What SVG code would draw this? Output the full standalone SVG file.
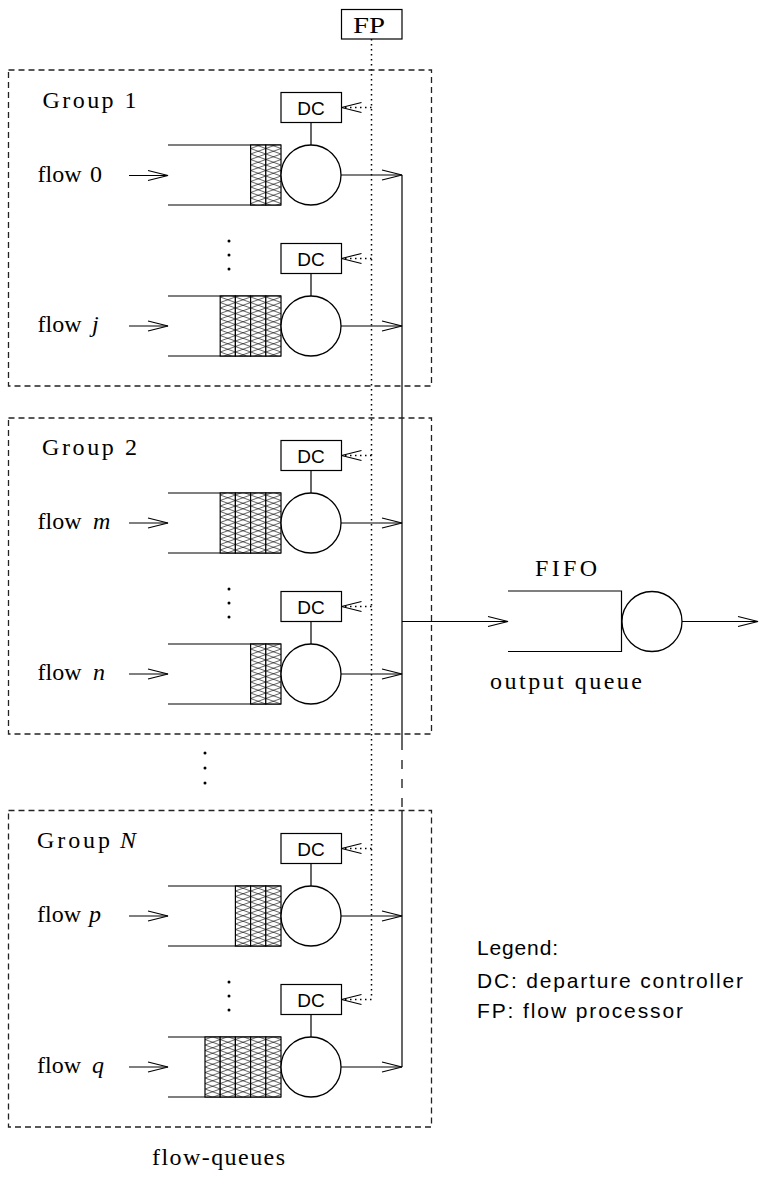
<svg xmlns="http://www.w3.org/2000/svg" width="759" height="1184" viewBox="0 0 759 1184">
<style>
.s{font-family:"Liberation Serif","DejaVu Serif",serif;font-size:24px;fill:#000}
.i{font-style:italic}
.ss{font-family:"Liberation Sans",Arial,sans-serif;fill:#000}
.dc{font-size:19px;text-anchor:middle}
.lg{font-size:21px}
.ln{stroke:#000;stroke-width:1.2;fill:none}
.grp{stroke:#222;stroke-width:1.3;fill:none;stroke-dasharray:6 4}
.dot{stroke:#000;stroke-width:1.5;fill:none;stroke-dasharray:1.5 3.5}
.box{stroke:#000;stroke-width:1.2;fill:#fff}
.cell{stroke:#000;stroke-width:1.2;fill:url(#hatch)}
.srv{stroke:#000;stroke-width:1.3;fill:#fff}
.pt{fill:#000}
</style>
<defs>
<marker id="oa" markerUnits="userSpaceOnUse" viewBox="-22 -7 24 14" refX="0" refY="0" markerWidth="24" markerHeight="14" orient="auto">
<path d="M-20,-5 L0,0 L-20,5" fill="none" stroke="#000" stroke-width="1.2"/>
</marker>
<pattern id="hatch" patternUnits="userSpaceOnUse" x="281" y="0" width="15.2" height="11">
<rect width="15.2" height="11" fill="#fff"/>
<path d="M0,0 L15.2,5.5 L0,11 M15.2,0 L0,5.5 L15.2,11" fill="none" stroke="#000" stroke-width="0.6"/>
</pattern>
</defs>

<g id="connectors">
<line class="dot" x1="371.5" y1="39" x2="371.5" y2="999"/>
<line class="ln" x1="402" y1="175" x2="402" y2="741"/>
<line class="ln" x1="402" y1="741" x2="402" y2="810" stroke-dasharray="9 10"/>
<line class="ln" x1="402" y1="810" x2="402" y2="1067"/>
<line class="ln" x1="341" y1="175" x2="402" y2="175" marker-end="url(#oa)"/>
<line class="ln" x1="341" y1="326" x2="402" y2="326" marker-end="url(#oa)"/>
<line class="ln" x1="341" y1="523" x2="402" y2="523" marker-end="url(#oa)"/>
<line class="ln" x1="341" y1="674" x2="402" y2="674" marker-end="url(#oa)"/>
<line class="ln" x1="341" y1="916" x2="402" y2="916" marker-end="url(#oa)"/>
<line class="ln" x1="341" y1="1067" x2="402" y2="1067" marker-end="url(#oa)"/>
<line class="dot" x1="371.5" y1="107.5" x2="341.5" y2="107.5" marker-end="url(#oa)"/>
<line class="dot" x1="371.5" y1="258.5" x2="341.5" y2="258.5" marker-end="url(#oa)"/>
<line class="dot" x1="371.5" y1="455.5" x2="341.5" y2="455.5" marker-end="url(#oa)"/>
<line class="dot" x1="371.5" y1="606.5" x2="341.5" y2="606.5" marker-end="url(#oa)"/>
<line class="dot" x1="371.5" y1="848.5" x2="341.5" y2="848.5" marker-end="url(#oa)"/>
<line class="dot" x1="371.5" y1="999.5" x2="341.5" y2="999.5" marker-end="url(#oa)"/>
<line class="ln" x1="402" y1="621.5" x2="508" y2="621.5" marker-end="url(#oa)"/>
<line class="ln" x1="682" y1="621.5" x2="758" y2="621.5" marker-end="url(#oa)"/>
</g>

<g id="fp">
<rect class="box" x="341.5" y="9.5" width="60.5" height="29.5"/>
<text class="s" x="353" y="33" font-size="25" textLength="32" lengthAdjust="spacingAndGlyphs">FP</text>
</g>

<g id="group1">
<rect class="grp" x="8.5" y="70" width="423" height="316"/>
<text class="s" x="42.5" y="107.5" textLength="94">Group 1</text>
<circle class="pt" cx="229" cy="241" r="1.5"/><circle class="pt" cx="229" cy="255" r="1.5"/><circle class="pt" cx="229" cy="269" r="1.5"/>
</g>
<g id="group2">
<rect class="grp" x="8.5" y="418" width="423" height="316"/>
<text class="s" x="42" y="455" textLength="95">Group 2</text>
<circle class="pt" cx="229" cy="589" r="1.5"/><circle class="pt" cx="229" cy="603" r="1.5"/><circle class="pt" cx="229" cy="617" r="1.5"/>
</g>
<g id="groupN">
<rect class="grp" x="8.5" y="810.5" width="423" height="316.5"/>
<text class="s" y="848"><tspan x="37" textLength="73">Group</tspan><tspan class="i" x="120">N</tspan></text>
<circle class="pt" cx="229" cy="982" r="1.5"/><circle class="pt" cx="229" cy="996" r="1.5"/><circle class="pt" cx="229" cy="1010" r="1.5"/>
</g>
<g id="between-groups">
<circle class="pt" cx="205" cy="753" r="1.5"/><circle class="pt" cx="205" cy="768" r="1.5"/><circle class="pt" cx="205" cy="783" r="1.5"/>
</g>

<g id="flow0">
<text class="s" y="181.5"><tspan x="37.5">flow</tspan><tspan x="90">0</tspan></text>
<line class="ln" x1="129" y1="175.5" x2="168" y2="175.5" marker-end="url(#oa)"/>
<path class="ln" d="M168,145 H281 M168,205 H281"/>
<rect class="cell" x="250.6" y="145" width="15.2" height="60"/><rect class="cell" x="265.8" y="145" width="15.2" height="60"/>
<circle class="srv" cx="311" cy="175" r="30"/>
<line class="ln" x1="311" y1="122.5" x2="311" y2="145"/>
<rect class="box" x="281" y="92.5" width="60.5" height="30"/>
<text class="ss dc" x="311" y="114.5">DC</text>
</g>

<g id="flowj">
<text class="s" y="332"><tspan x="37.5">flow</tspan><tspan class="i" x="92">j</tspan></text>
<line class="ln" x1="129" y1="326" x2="168" y2="326" marker-end="url(#oa)"/>
<path class="ln" d="M168,296 H281 M168,356 H281"/>
<rect class="cell" x="220.2" y="296" width="15.2" height="60"/><rect class="cell" x="235.4" y="296" width="15.2" height="60"/><rect class="cell" x="250.6" y="296" width="15.2" height="60"/><rect class="cell" x="265.8" y="296" width="15.2" height="60"/>
<circle class="srv" cx="311" cy="326" r="30"/>
<line class="ln" x1="311" y1="273.5" x2="311" y2="296"/>
<rect class="box" x="281" y="243.5" width="60.5" height="30"/>
<text class="ss dc" x="311" y="265.5">DC</text>
</g>

<g id="flowm">
<text class="s" y="529"><tspan x="37.5">flow</tspan><tspan class="i" x="93">m</tspan></text>
<line class="ln" x1="129" y1="523" x2="168" y2="523" marker-end="url(#oa)"/>
<path class="ln" d="M168,493 H281 M168,553 H281"/>
<rect class="cell" x="220.2" y="493" width="15.2" height="60"/><rect class="cell" x="235.4" y="493" width="15.2" height="60"/><rect class="cell" x="250.6" y="493" width="15.2" height="60"/><rect class="cell" x="265.8" y="493" width="15.2" height="60"/>
<circle class="srv" cx="311" cy="523" r="30"/>
<line class="ln" x1="311" y1="470.5" x2="311" y2="493"/>
<rect class="box" x="281" y="440.5" width="60.5" height="30"/>
<text class="ss dc" x="311" y="462.5">DC</text>
</g>

<g id="flown">
<text class="s" y="680"><tspan x="37.5">flow</tspan><tspan class="i" x="93">n</tspan></text>
<line class="ln" x1="129" y1="674" x2="168" y2="674" marker-end="url(#oa)"/>
<path class="ln" d="M168,644 H281 M168,704 H281"/>
<rect class="cell" x="250.6" y="644" width="15.2" height="60"/><rect class="cell" x="265.8" y="644" width="15.2" height="60"/>
<circle class="srv" cx="311" cy="674" r="30"/>
<line class="ln" x1="311" y1="621.5" x2="311" y2="644"/>
<rect class="box" x="281" y="591.5" width="60.5" height="30"/>
<text class="ss dc" x="311" y="613.5">DC</text>
</g>

<g id="flowp">
<text class="s" y="922"><tspan x="37">flow</tspan><tspan class="i" x="89">p</tspan></text>
<line class="ln" x1="129" y1="916" x2="168" y2="916" marker-end="url(#oa)"/>
<path class="ln" d="M168,886 H281 M168,946 H281"/>
<rect class="cell" x="235.4" y="886" width="15.2" height="60"/><rect class="cell" x="250.6" y="886" width="15.2" height="60"/><rect class="cell" x="265.8" y="886" width="15.2" height="60"/>
<circle class="srv" cx="311" cy="916" r="30"/>
<line class="ln" x1="311" y1="863.5" x2="311" y2="886"/>
<rect class="box" x="281" y="833.5" width="60.5" height="30"/>
<text class="ss dc" x="311" y="855.5">DC</text>
</g>

<g id="flowq">
<text class="s" y="1073"><tspan x="37">flow</tspan><tspan class="i" x="92">q</tspan></text>
<line class="ln" x1="129" y1="1067" x2="168" y2="1067" marker-end="url(#oa)"/>
<path class="ln" d="M168,1037 H281 M168,1097 H281"/>
<rect class="cell" x="205" y="1037" width="15.2" height="60"/><rect class="cell" x="220.2" y="1037" width="15.2" height="60"/><rect class="cell" x="235.4" y="1037" width="15.2" height="60"/><rect class="cell" x="250.6" y="1037" width="15.2" height="60"/><rect class="cell" x="265.8" y="1037" width="15.2" height="60"/>
<circle class="srv" cx="311" cy="1067" r="30"/>
<line class="ln" x1="311" y1="1014.5" x2="311" y2="1037"/>
<rect class="box" x="281" y="984.5" width="60.5" height="30"/>
<text class="ss dc" x="311" y="1006.5">DC</text>
</g>

<g id="fifo">
<text class="s" x="535" y="576" textLength="62">FIFO</text>
<path class="ln" d="M508,591 H621.5 V651.5 H508"/>
<circle class="srv" cx="652" cy="621.5" r="30"/>
<text class="s" x="490" y="689" textLength="152">output queue</text>
</g>

<g id="caption">
<text class="s" x="152" y="1165" textLength="133">flow-queues</text>
</g>

<g id="legend">
<text class="ss lg" x="477" y="955" textLength="81">Legend:</text>
<text class="ss lg" x="477" y="988" textLength="266">DC: departure controller</text>
<text class="ss lg" x="477" y="1018" textLength="206">FP: flow processor</text>
</g>
</svg>
